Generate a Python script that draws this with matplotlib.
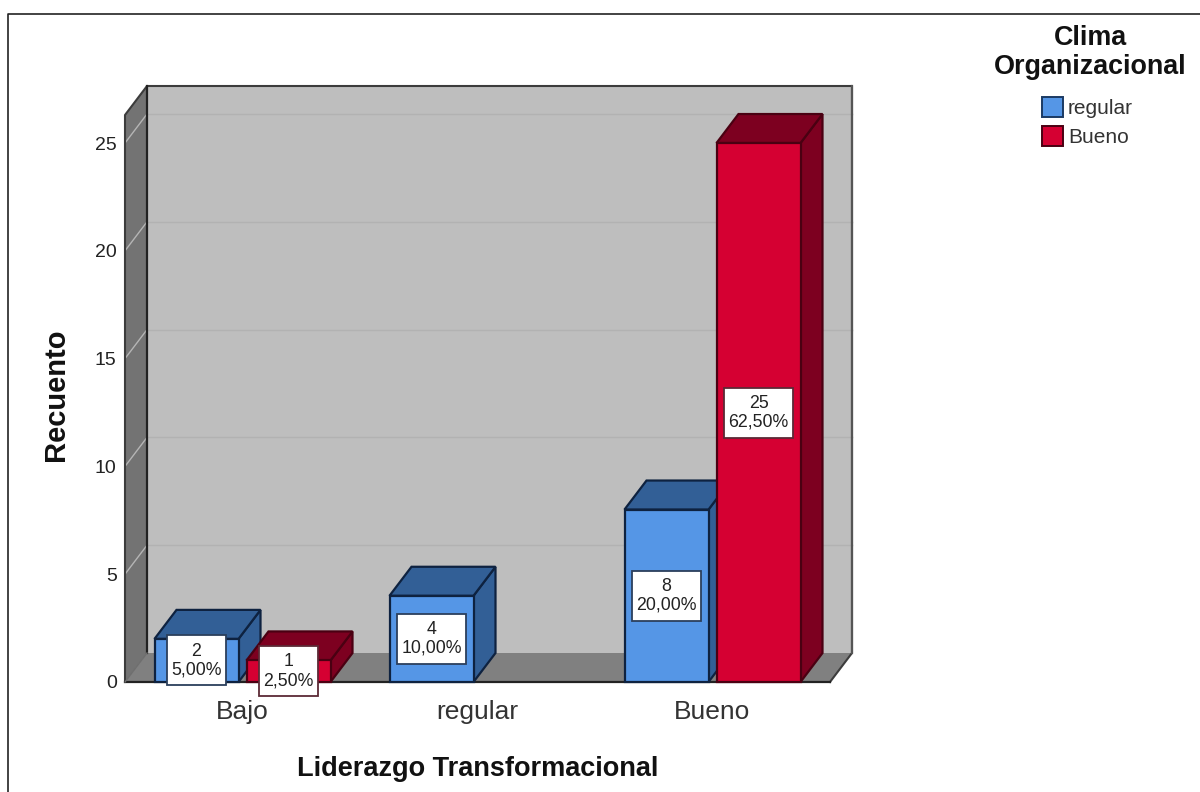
import matplotlib
matplotlib.use('Agg')
import matplotlib.pyplot as plt
from matplotlib.patches import Polygon, Patch, Rectangle
from matplotlib.lines import Line2D

plt.rcParams['font.family'] = ['Liberation Sans', 'DejaVu Sans']

categories = ['Bajo', 'regular', 'Bueno']
regular_counts = [2, 4, 8]
bueno_counts = [1, 0, 25]
regular_pct = ['5,00%', '10,00%', '20,00%']
bueno_pct = ['2,50%', '', '62,50%']
y_ticks = [0, 5, 10, 15, 20, 25]

# px sizes, everything else goes through the axes
W, H = 1200, 792
px_x = 235.0
px_y = 21.56
dx = 22 / px_x
dy = 29 / px_y
bw = 84 / px_x
gap = 8 / px_x
ytop = 26.3

fig = plt.figure(figsize=(W / 100, H / 100), dpi=100, facecolor='white')
ax = fig.add_axes([125 / W, 1 - 682 / H, 705 / W, 567 / H])
ax.set_xlim(-0.5, 2.5)
ax.set_ylim(0, ytop)
ax.patch.set_visible(False)
for s in ax.spines.values():
    s.set_visible(False)


def poly(pts, fc, ec='none', lw=1.0, z=1):
    ax.add_patch(Polygon(pts, closed=True, facecolor=fc, edgecolor=ec, linewidth=lw,
                         zorder=z, clip_on=False, joinstyle='miter'))


x0, x1 = -0.5, 2.5
# back wall, side wall, floor
poly([(x0 + dx, dy), (x1 + dx, dy), (x1 + dx, ytop + dy), (x0 + dx, ytop + dy)], '#bebebe', z=1)
poly([(x0, 0), (x0 + dx, dy), (x0 + dx, ytop + dy), (x0, ytop)], '#737373', z=1)
poly([(x0, 0), (x1, 0), (x1 + dx, dy), (x0 + dx, dy)], '#808080', z=1)

for v in y_ticks[1:]:
    ax.plot([x0 + dx, x1 + dx], [v + dy, v + dy], color='#b2b2b2', lw=1.0, zorder=2, clip_on=False)
    ax.plot([x0, x0 + dx], [v, v + dy], color='#b5b5b5', lw=1.0, zorder=2, clip_on=False)

ax.plot([x0, x0, x0 + dx, x1 + dx, x1 + dx, x1], [0, ytop, ytop + dy, ytop + dy, dy, 0],
        color='#3c3c3c', lw=1.5, zorder=3, clip_on=False)
ax.plot([x0 + dx, x0 + dx], [dy, ytop + dy], color='#222222', lw=1.6, zorder=3, clip_on=False)
ax.plot([x0, x1], [0, 0], color='#222222', lw=1.6, zorder=3, clip_on=False)
ax.plot([x0, x0 + dx], [0, dy], color='#6e6e6e', lw=1, zorder=3, clip_on=False)
ax.plot([x1 + dx, x1 + dx], [dy, ytop + dy], color='#555555', lw=1.6, zorder=3, clip_on=False)


def bar3d(left, h, front, side, edge, z):
    r = left + bw
    poly([(r, 0), (r + dx, dy), (r + dx, h + dy), (r, h)], side, edge, 1.6, z)
    poly([(left, h), (r, h), (r + dx, h + dy), (left + dx, h + dy)], side, edge, 1.6, z)
    poly([(left, 0), (r, 0), (r, h), (left, h)], front, edge, 1.6, z + 0.1)


def label(xc, h, pct, edge):
    # box is taller than the text would give, so it is drawn on its own
    box_w = (69 if len(pct) > 5 else 59) / px_x
    box_h = 50 / px_y
    ax.add_patch(Rectangle((xc - box_w / 2, h / 2 - box_h / 2), box_w, box_h, facecolor='white',
                           edgecolor=edge, linewidth=1.3, zorder=19, clip_on=False))
    ax.text(xc, h / 2, f'{h}\n{pct}', ha='center', va='center', fontsize=12.8, linespacing=1.12,
            color='#222222', zorder=20, clip_on=False)


for i in range(len(categories)):
    r_left = i - bw - gap / 2
    b_left = i + gap / 2
    z = 5 + i * 3
    if regular_counts[i] > 0:
        bar3d(r_left, regular_counts[i], '#5596e6', '#325f96', '#0e2240', z)
    if bueno_counts[i] > 0:
        bar3d(b_left, bueno_counts[i], '#d50032', '#7d0020', '#4a0012', z + 1)
for i in range(len(categories)):
    if regular_counts[i] > 0:
        label(i - bw / 2 - gap / 2, regular_counts[i], regular_pct[i], '#2b3f5c')
    if bueno_counts[i] > 0:
        label(i + bw / 2 + gap / 2, bueno_counts[i], bueno_pct[i], '#5c2a36')

ax.set_xticks(range(len(categories)))
ax.set_xticklabels(categories, fontsize=19, color='#333333')
ax.set_yticks(y_ticks)
ax.set_yticklabels([str(v) for v in y_ticks], fontsize=14, color='#222222')
ax.tick_params(axis='x', length=0, pad=13)
ax.tick_params(axis='y', length=0, pad=6)
ax.set_xlabel('Liderazgo Transformacional', fontsize=19.5, fontweight='bold', color='#111111', labelpad=23)
ax.set_ylabel('Recuento', fontsize=21, fontweight='bold', color='#111111', labelpad=18, y=0.507)

fig.text(1090 / W, 1 - 52.5 / H, 'Clima\nOrganizacional', ha='center', va='center', multialignment='center',
         fontsize=19.4, fontweight='bold', color='#111111', linespacing=1.12)

handles = [Patch(facecolor='#5596e6', edgecolor='#1b3a63', linewidth=1.4, label='regular'),
           Patch(facecolor='#d50032', edgecolor='#4a0012', linewidth=1.4, label='Bueno')]
leg = fig.legend(handles=handles, loc='upper left', bbox_to_anchor=(1042 / W, 1 - 97 / H), frameon=False,
                 fontsize=15, handlelength=1.0, handleheight=1.1, handletextpad=0.25, labelspacing=0.38,
                 labelcolor='#333333', borderpad=0, borderaxespad=0)

# outer frame, top and left only
fig.add_artist(Line2D([8 / W, 8 / W, 1], [0, 1 - 14 / H, 1 - 14 / H], color='#222222', lw=1.2))

fig.savefig('out.png', dpi=100)
